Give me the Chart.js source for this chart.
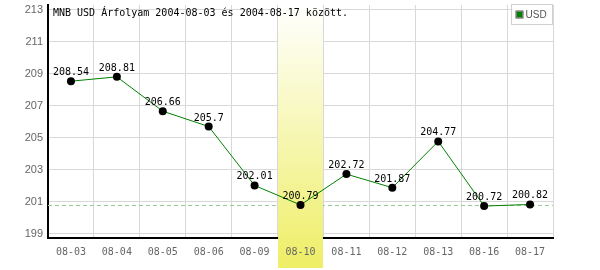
<!DOCTYPE html>
<html>
<head>
<meta charset="utf-8">
<script src="https://cdn.jsdelivr.net/npm/chart.js@4.4.1/dist/chart.umd.min.js"></script>
<style>
  html, body { margin: 0; padding: 0; background: #fff; }
  #wrap { width: 600px; height: 270px; }
</style>
</head>
<body>
<div id="wrap"><canvas id="rate-chart" width="600" height="270"></canvas></div>
<script>
// values
const dates = ['08-03', '08-04', '08-05', '08-06', '08-09', '08-10', '08-11', '08-12', '08-13', '08-16', '08-17'];
const usdRates = [208.54, 208.81, 206.66, 205.7, 202.01, 200.79, 202.72, 201.87, 204.77, 200.72, 200.82];
const yTicks = [199, 201, 203, 205, 207, 209, 211, 213];
const refLineValue = 200.76;
const highlightIndex = 5;
const titleText = 'MNB USD Árfolyam 2004-08-03 és 2004-08-17 között.';
const seriesName = 'USD';

const MONO = '"DejaVu Sans Mono", "Liberation Mono", monospace';

// dashed reference line + highlighted day, drawn under the series
const bandPlugin = {
    id: 'band',
    beforeDatasetsDraw(chart) {
        const { ctx, chartArea, scales } = chart;
        const x = scales.x, y = scales.y;
        const step = x.getPixelForValue(1) - x.getPixelForValue(0);

        const ly = Math.round(y.getPixelForValue(refLineValue)) + 0.5;
        ctx.save();
        ctx.strokeStyle = '#98cc98';
        ctx.lineWidth = 1;
        ctx.setLineDash([4, 3]);
        ctx.beginPath();
        ctx.moveTo(chartArea.left, ly);
        ctx.lineTo(chartArea.right, ly);
        ctx.stroke();
        ctx.restore();

        const cx = x.getPixelForValue(highlightIndex);
        const bottom = chart.height - 2;
        const grad = ctx.createLinearGradient(0, chartArea.top, 0, bottom);
        grad.addColorStop(0, '#ffffff');
        grad.addColorStop(1, '#eeee66');
        ctx.save();
        ctx.fillStyle = grad;
        ctx.fillRect(cx - step / 2 + 0.5, chartArea.top, step - 1, bottom - chartArea.top);
        ctx.restore();
    }
};

// title, value labels and the little legend box
const textPlugin = {
    id: 'texts',
    afterDatasetsDraw(chart) {
        const { ctx, chartArea } = chart;
        const meta = chart.getDatasetMeta(0);
        ctx.save();
        ctx.font = '10px ' + MONO;
        ctx.fillStyle = '#000';
        ctx.textAlign = 'center';
        ctx.textBaseline = 'alphabetic';
        meta.data.forEach((pt, i) => {
            ctx.fillText(String(usdRates[i]), pt.x, pt.y - 6);
        });

        ctx.textAlign = 'left';
        ctx.fillText(titleText, chartArea.left + 5, 16);

        const bx = 511.5, by = 4.5, bw = 41, bh = 20;
        ctx.fillStyle = '#fff';
        ctx.fillRect(bx, by, bw, bh);
        ctx.strokeStyle = '#d0d0d0';
        ctx.lineWidth = 1;
        ctx.strokeRect(bx, by, bw, bh);
        ctx.fillStyle = '#008000';
        ctx.fillRect(bx + 5, by + 7, 6, 6);
        ctx.strokeStyle = '#555';
        ctx.strokeRect(bx + 4.5, by + 6.5, 7, 7);
        ctx.fillStyle = '#555';
        ctx.font = '10px "Liberation Sans", sans-serif';
        ctx.textBaseline = 'middle';
        ctx.fillText(seriesName, bx + 14, by + 10.5);
        ctx.restore();
    }
};

const canvas = document.getElementById('rate-chart');
const rateChart = new Chart(canvas, {
    type: 'line',
    data: {
        labels: dates,
        datasets: [{
            label: seriesName,
            data: usdRates,
            borderColor: '#008000',
            borderWidth: 1,
            pointRadius: 4,
            pointBackgroundColor: '#000',
            pointBorderColor: '#000',
            pointBorderWidth: 0,
            tension: 0
        }]
    },
    options: {
        responsive: false,
        animation: false,
        devicePixelRatio: 1,
        layout: { padding: { top: 5, right: 47, left: 0, bottom: 0 } },
        plugins: {
            legend: { display: false },
            tooltip: { enabled: false }
        },
        scales: {
            x: {
                offset: true,
                grid: { offset: true, color: '#d8d8d8', drawTicks: false },
                border: { color: '#000', width: 2 },
                ticks: { z: 1, color: '#666', font: { family: MONO, size: 10 }, padding: 8, maxRotation: 0 },
                afterFit(s) { s.height = 32; s.paddingLeft = 0; s.paddingRight = 0; }
            },
            y: {
                min: 198.72,
                max: 213.31,
                afterBuildTicks(s) { s.ticks = yTicks.map(v => ({ value: v })); },
                grid: { color: '#d8d8d8', drawTicks: false },
                border: { color: '#000', width: 2 },
                ticks: {
                    color: '#666',
                    font: { family: '"Liberation Sans", sans-serif', size: 11 },
                    padding: 5,
                    callback: v => v
                },
                afterFit(s) { s.width = 48; s.paddingTop = 0; s.paddingBottom = 0; }
            }
        }
    },
    plugins: [bandPlugin, textPlugin]
});
</script>
</body>
</html>
